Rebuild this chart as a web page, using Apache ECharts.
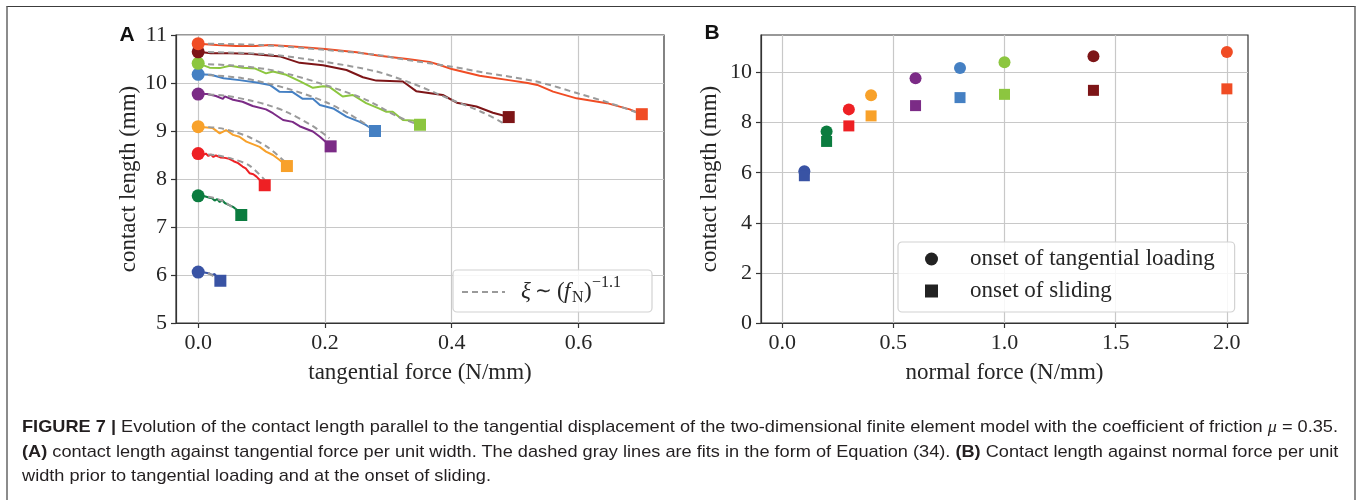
<!DOCTYPE html>
<html>
<head>
<meta charset="utf-8">
<script src="https://cdn.jsdelivr.net/npm/echarts@6/dist/echarts.min.js"></script>
<style>
  html, body { margin: 0; padding: 0; background: #fff; }
  #wrap { position: relative; width: 1358px; height: 500px; overflow: hidden; background: #fff; }
  #chart { position: absolute; left: 0; top: 0; width: 1358px; height: 500px; }
  #frame { position: absolute; left: 6px; top: 6px; width: 1350px; height: 520px; box-sizing: border-box;
           border-top: 1px solid #3c3c3c; border-left: 2px solid #8c8c8c; border-right: 2px solid #8c8c8c; pointer-events: none; }
  .cap { position: absolute; left: 22px; white-space: nowrap; line-height: 20px; height: 20px;
         font-family: "Liberation Sans Narrow", "Liberation Sans", Arial, sans-serif; font-size: 17px; color: #231f20;
         transform-origin: 0 50%; }
  .cap b { font-weight: bold; }
  .cap .mu { font-family: "Liberation Serif", serif; font-style: italic; }
</style>
</head>
<body>
<div id="wrap">
  <div id="chart"></div>
  <div id="frame"></div>
  <div class="cap" style="top:417px"><b>FIGURE 7 |</b> Evolution of the contact length parallel to the tangential displacement of the two-dimensional finite element model with the coefficient of friction <span class="mu">μ</span> = 0.35.</div>
  <div class="cap" style="top:442px"><b>(A)</b> contact length against tangential force per unit width. The dashed gray lines are fits in the form of Equation (34). <b>(B)</b> Contact length against normal force per unit</div>
  <div class="cap" style="top:466px">width prior to tangential loading and at the onset of sliding.</div>
</div>
<script>
// Normal force per unit width (N/mm) of each simulation
const normalForces = [0.1, 0.2, 0.3, 0.4, 0.6, 0.8, 1.0, 1.4, 2.0];
// Contact length (mm) before tangential loading and at the onset of sliding
const lengthAtLoading = [6.06, 7.65, 8.53, 9.09, 9.77, 10.18, 10.41, 10.65, 10.82];
const lengthAtSliding = [5.88, 7.25, 7.87, 8.27, 8.68, 9.00, 9.13, 9.29, 9.35];
// Tangential force per unit width (N/mm) at the onset of sliding
const tangentialAtSliding = [0.035, 0.068, 0.105, 0.140, 0.209, 0.279, 0.350, 0.490, 0.700];

// Contact length during tangential loading: [tangential force, contact length]
const curveFN01 = [[0, 6.06], [0.010, 6.05], [0.018, 6.03], [0.022, 6.00], [0.026, 6.02], [0.030, 5.95], [0.035, 5.88]];
const curveFN02 = [[0, 7.65], [0.010, 7.64], [0.018, 7.61], [0.022, 7.60], [0.026, 7.55], [0.030, 7.58], [0.034, 7.52],
  [0.038, 7.56], [0.042, 7.50], [0.048, 7.46], [0.055, 7.42], [0.062, 7.35], [0.068, 7.25]];
const curveFN03 = [[0, 8.53], [0.008, 8.50], [0.012, 8.53], [0.016, 8.48], [0.020, 8.51], [0.024, 8.46], [0.028, 8.49],
  [0.035, 8.45], [0.042, 8.44], [0.049, 8.42], [0.056, 8.37], [0.063, 8.33], [0.070, 8.26], [0.075, 8.22],
  [0.081, 8.12], [0.087, 8.10], [0.092, 8.05], [0.098, 7.97], [0.105, 7.87]];
const curveFN04 = [[0, 9.09], [0.023, 9.06], [0.034, 8.95], [0.044, 9.02], [0.055, 8.92], [0.065, 8.88], [0.076, 8.78],
  [0.097, 8.67], [0.107, 8.57], [0.118, 8.50], [0.128, 8.40], [0.140, 8.27]];
const curveFN06 = [[0, 9.77], [0.014, 9.77], [0.028, 9.73], [0.039, 9.67], [0.042, 9.72], [0.055, 9.65], [0.070, 9.61],
  [0.086, 9.52], [0.107, 9.45], [0.118, 9.37], [0.134, 9.23], [0.149, 9.19], [0.160, 9.10], [0.181, 8.99],
  [0.192, 8.88], [0.209, 8.68]];
const curveFN08 = [[0, 10.18], [0.020, 10.17], [0.040, 10.10], [0.065, 10.06], [0.092, 10.01], [0.113, 9.96], [0.128, 9.82],
  [0.149, 9.81], [0.165, 9.67], [0.181, 9.67], [0.192, 9.54], [0.213, 9.47], [0.234, 9.30], [0.255, 9.19],
  [0.265, 9.12], [0.279, 9.00]];
const curveFN10 = [[0, 10.41], [0.018, 10.32], [0.034, 10.31], [0.050, 10.36], [0.070, 10.32], [0.090, 10.30], [0.107, 10.20],
  [0.118, 10.24], [0.139, 10.17], [0.160, 10.04], [0.181, 9.90], [0.197, 9.93], [0.207, 9.92], [0.228, 9.72],
  [0.244, 9.75], [0.265, 9.58], [0.285, 9.47], [0.297, 9.40], [0.307, 9.40], [0.323, 9.23], [0.339, 9.22], [0.350, 9.13]];
const curveFN14 = [[0, 10.65], [0.020, 10.62], [0.050, 10.62], [0.080, 10.61], [0.107, 10.58], [0.130, 10.55], [0.160, 10.42],
  [0.197, 10.37], [0.234, 10.27], [0.260, 10.12], [0.281, 10.05], [0.323, 10.03], [0.344, 9.83], [0.386, 9.75],
  [0.408, 9.59], [0.439, 9.51], [0.465, 9.38], [0.490, 9.29]];
const curveFN20 = [[0, 10.82], [0.030, 10.79], [0.060, 10.77], [0.090, 10.77], [0.113, 10.79], [0.150, 10.76], [0.200, 10.71],
  [0.250, 10.64], [0.286, 10.57], [0.330, 10.50], [0.365, 10.44], [0.380, 10.38], [0.400, 10.29], [0.444, 10.15],
  [0.490, 10.06], [0.520, 10.00], [0.535, 9.96], [0.560, 9.82], [0.597, 9.68], [0.645, 9.58], [0.681, 9.45], [0.700, 9.35]];

// Fitted curves xi ~ (f_N)^-1.1
const fitFN01 = [[0, 6.06], [0.015, 6.04], [0.032, 5.91]];
const fitFN02 = [[0, 7.65], [0.020, 7.62], [0.040, 7.53], [0.067, 7.29]];
const fitFN03 = [[0, 8.53], [0.030, 8.49], [0.054, 8.42], [0.081, 8.28], [0.105, 7.98]];
const fitFN04 = [[0, 9.09], [0.034, 9.06], [0.060, 8.97], [0.081, 8.87], [0.110, 8.66], [0.139, 8.33]];
const fitFN06 = [[0, 9.77], [0.040, 9.74], [0.081, 9.64], [0.110, 9.54], [0.139, 9.40], [0.181, 9.10], [0.207, 8.85]];
const fitFN08 = [[0, 10.18], [0.070, 10.10], [0.139, 9.89], [0.200, 9.61], [0.240, 9.34], [0.275, 9.05]];
const fitFN10 = [[0, 10.40], [0.050, 10.37], [0.107, 10.29], [0.150, 10.16], [0.200, 9.96], [0.265, 9.65], [0.315, 9.30], [0.350, 9.12]];
const fitFN14 = [[0, 10.65], [0.107, 10.60], [0.200, 10.44], [0.281, 10.24], [0.338, 9.99], [0.400, 9.65], [0.450, 9.38], [0.482, 9.16]];
const fitFN20 = [[0, 10.82], [0.100, 10.79], [0.200, 10.69], [0.286, 10.58], [0.315, 10.51], [0.400, 10.34], [0.450, 10.22],
  [0.534, 10.03], [0.600, 9.78], [0.650, 9.58], [0.700, 9.35]];

// Tick positions and labels
const ticksAx = [0, 0.2, 0.4, 0.6];
const ticksAy = [5, 6, 7, 8, 9, 10, 11];
const ticksBx = [0, 0.5, 1.0, 1.5, 2.0];
const ticksBy = [0, 2, 4, 6, 8, 10];

const loadingCurves = [curveFN01, curveFN02, curveFN03, curveFN04, curveFN06, curveFN08, curveFN10, curveFN14, curveFN20];
const fitCurves = [fitFN01, fitFN02, fitFN03, fitFN04, fitFN06, fitFN08, fitFN10, fitFN14, fitFN20];
const seriesColors = ['#3953a4', '#0b7c3f', '#ee2024', '#f8a12a', '#7b2b86', '#4580c3', '#8cc63f', '#7d1517', '#f04c24'];

const SERIF = '"Liberation Serif", "Times New Roman", serif';
const INK = '#262626';
const axisLineStyle = { color: '#333', width: 1.2 };
const gridLineStyle = { color: '#c8c8c8', width: 1.2 };

function valueAxis(gridIndex, min, max, ticks, fmt, name, nameGap, labelSize) {
  return {
    type: 'value', gridIndex, min, max, name,
    nameLocation: 'middle', nameGap,
    nameTextStyle: { fontFamily: SERIF, fontSize: 23, color: INK },
    axisLine: { show: true, onZero: false, lineStyle: axisLineStyle },
    axisTick: { show: true, inside: false, length: 5, customValues: ticks, lineStyle: axisLineStyle },
    axisLabel: { show: true, customValues: ticks, formatter: fmt, margin: 9,
                 fontFamily: SERIF, fontSize: labelSize, color: INK },
    splitLine: { show: true, lineStyle: gridLineStyle }
  };
}

const series = [];
loadingCurves.forEach((pts, i) => {
  series.push({ type: 'line', xAxisIndex: 0, yAxisIndex: 0, data: pts, symbol: 'none', z: 2,
                lineStyle: { color: seriesColors[i], width: 2 }, silent: true });
});
fitCurves.forEach((pts) => {
  series.push({ type: 'line', xAxisIndex: 0, yAxisIndex: 0, data: pts, symbol: 'none', z: 3, smooth: 0.3,
                lineStyle: { color: '#9a9a9a', width: 2, type: [6, 4] }, silent: true });
});
series.push({
  type: 'scatter', xAxisIndex: 0, yAxisIndex: 0, symbol: 'circle', symbolSize: 13, z: 4,
  itemStyle: { opacity: 1 },
  data: lengthAtLoading.map((v, i) => ({ value: [0, v], itemStyle: { color: seriesColors[i], opacity: 1 } }))
});
series.push({
  type: 'scatter', xAxisIndex: 0, yAxisIndex: 0, symbol: 'rect', symbolSize: 12, z: 4,
  itemStyle: { opacity: 1 },
  data: lengthAtSliding.map((v, i) => ({ value: [tangentialAtSliding[i], v], itemStyle: { color: seriesColors[i], opacity: 1 } }))
});
series.push({
  name: 'onset of tangential loading', type: 'scatter', xAxisIndex: 1, yAxisIndex: 1, symbol: 'circle', symbolSize: 12, z: 4,
  itemStyle: { color: '#222', opacity: 1 },
  data: lengthAtLoading.map((v, i) => ({ value: [normalForces[i], v], itemStyle: { color: seriesColors[i], opacity: 1 } }))
});
series.push({
  name: 'onset of sliding', type: 'scatter', xAxisIndex: 1, yAxisIndex: 1, symbol: 'rect', symbolSize: 11, z: 4,
  itemStyle: { color: '#222', opacity: 1 },
  data: lengthAtSliding.map((v, i) => ({ value: [normalForces[i], v], itemStyle: { color: seriesColors[i], opacity: 1 } }))
});

const fmt1 = v => Number(v).toFixed(1);
const fmt0 = v => String(Math.round(v));

const option = {
  animation: false,
  backgroundColor: 'transparent',
  grid: [
    { left: 176, top: 35, width: 488, height: 288, show: true, borderColor: '#333', borderWidth: 1.2, backgroundColor: 'transparent' },
    { left: 761, top: 35, width: 487, height: 288, show: true, borderColor: '#333', borderWidth: 1.2, backgroundColor: 'transparent' }
  ],
  xAxis: [
    valueAxis(0, -0.035, 0.735, ticksAx, fmt1, 'tangential force (N/mm)', 38, 22),
    valueAxis(1, -0.095, 2.095, ticksBx, fmt1, 'normal force (N/mm)', 38, 22)
  ],
  yAxis: [
    valueAxis(0, 5, 11, ticksAy, fmt0, 'contact length (mm)', 36, 22),
    valueAxis(1, 0, 11.5, ticksBy, fmt0, 'contact length (mm)', 40, 22)
  ],
  legend: {
    data: ['onset of tangential loading', 'onset of sliding'],
    orient: 'vertical', left: 898, top: 242,
    padding: [5, 20, 9, 27], itemGap: 8, itemWidth: 13, itemHeight: 13,
    backgroundColor: 'rgba(255,255,255,0.85)', borderColor: '#d2d2d2', borderWidth: 1.2, borderRadius: 4,
    selectedMode: false,
    textStyle: { fontFamily: SERIF, fontSize: 23, lineHeight: 24, color: INK, padding: [0, 0, 0, 27] }
  },
  graphic: [
    { type: 'text', x: 127, y: 35, style: { text: 'A', font: 'bold 21px "Liberation Sans", Arial, sans-serif', fill: '#111', align: 'center', verticalAlign: 'middle' } },
    { type: 'text', x: 712, y: 33, style: { text: 'B', font: 'bold 21px "Liberation Sans", Arial, sans-serif', fill: '#111', align: 'center', verticalAlign: 'middle' } },
    { type: 'rect', z: 10, shape: { x: 453, y: 270, width: 199, height: 42, r: 4 },
      style: { fill: 'rgba(255,255,255,0.85)', stroke: '#d2d2d2', lineWidth: 1.2 } },
    { type: 'line', z: 11, shape: { x1: 462, y1: 292, x2: 505, y2: 292 },
      style: { stroke: '#9a9a9a', lineWidth: 2, lineDash: [6, 4] } },
    { type: 'text', z: 11, x: 521, y: 292, style: { text: 'ξ', font: 'italic 23px ' + SERIF, fill: INK, verticalAlign: 'middle' } },
    { type: 'text', z: 11, x: 535, y: 292, style: { text: '∼', font: '20px ' + SERIF, fill: INK, verticalAlign: 'middle' } },
    { type: 'text', z: 11, x: 557, y: 292, style: { text: '(', font: '23px ' + SERIF, fill: INK, verticalAlign: 'middle' } },
    { type: 'text', z: 11, x: 564, y: 292, style: { text: 'f', font: 'italic 23px ' + SERIF, fill: INK, verticalAlign: 'middle' } },
    { type: 'text', z: 11, x: 572, y: 298, style: { text: 'N', font: '16px ' + SERIF, fill: INK, verticalAlign: 'middle' } },
    { type: 'text', z: 11, x: 584, y: 292, style: { text: ')', font: '23px ' + SERIF, fill: INK, verticalAlign: 'middle' } },
    { type: 'text', z: 11, x: 592, y: 283, style: { text: '−1.1', font: '16px ' + SERIF, fill: INK, verticalAlign: 'middle' } }
  ],
  series
};

const chart = echarts.init(document.getElementById('chart'), null, { renderer: 'canvas' });
chart.setOption(option);

// Caption lines share the width of the first one
const capLines = document.querySelectorAll('.cap');
const firstWidth = capLines[0].getBoundingClientRect().width;
const k = 1316 / firstWidth;
capLines.forEach(el => { el.style.transform = 'scaleX(' + k + ')'; });
</script>
</body>
</html>
